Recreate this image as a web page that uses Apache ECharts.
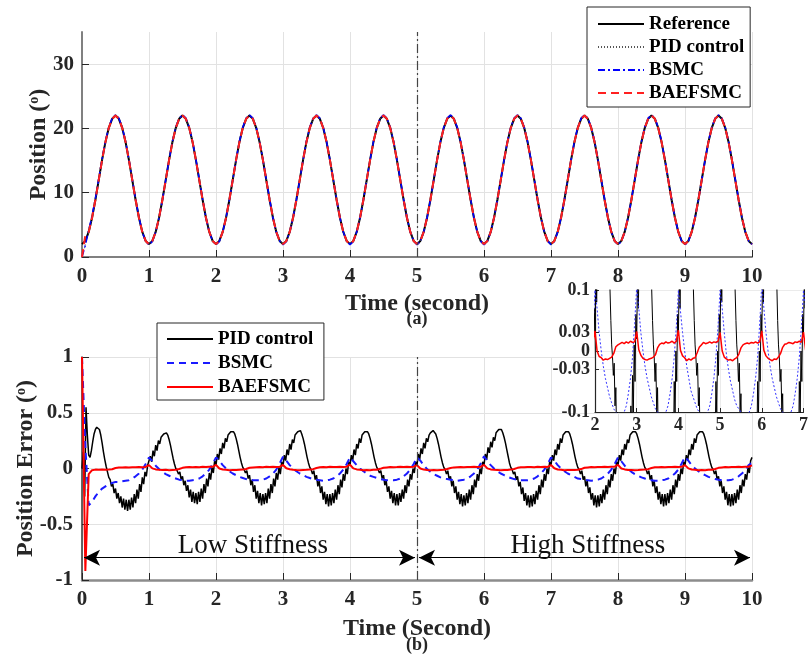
<!DOCTYPE html>
<html>
<head>
<meta charset="utf-8">
<script src="https://cdn.jsdelivr.net/npm/echarts/dist/echarts.min.js"></script>
<style>html,body{margin:0;padding:0;background:#fff}#c{width:811px;height:658px}</style>
</head>
<body>
<div id="c"></div>
<script>
// ---------- DATA ----------
const posStep = 0.05;   // s, sampling of the position curves
const errStepPid = 0.02; // s, sampling of PID error
const errStep = 0.05;   // s, sampling of BSMC / BAEFSMC error

const xTicks = [0,1,2,3,4,5,6,7,8,9,10];
const posTicks = [0,10,20,30];
const errTicks = [-1,-0.5,0,0.5,1];
const insetYTicks = [-0.1,-0.03,0,0.03,0.1];
const insetXTicks = [2,3,4,5,6,7];

const refPos = [
2,2.5,3.9,6.1,8.9,12,15.1,17.9,20.1,21.5,22,21.5,20.1,17.9,15.1,12,8.9,6.1,3.9,2.5,
2,2.5,3.9,6.1,8.9,12,15.1,17.9,20.1,21.5,22,21.5,20.1,17.9,15.1,12,8.9,6.1,3.9,2.5,
2,2.5,3.9,6.1,8.9,12,15.1,17.9,20.1,21.5,22,21.5,20.1,17.9,15.1,12,8.9,6.1,3.9,2.5,
2,2.5,3.9,6.1,8.9,12,15.1,17.9,20.1,21.5,22,21.5,20.1,17.9,15.1,12,8.9,6.1,3.9,2.5,
2,2.5,3.9,6.1,8.9,12,15.1,17.9,20.1,21.5,22,21.5,20.1,17.9,15.1,12,8.9,6.1,3.9,2.5,
2,2.5,3.9,6.1,8.9,12,15.1,17.9,20.1,21.5,22,21.5,20.1,17.9,15.1,12,8.9,6.1,3.9,2.5,
2,2.5,3.9,6.1,8.9,12,15.1,17.9,20.1,21.5,22,21.5,20.1,17.9,15.1,12,8.9,6.1,3.9,2.5,
2,2.5,3.9,6.1,8.9,12,15.1,17.9,20.1,21.5,22,21.5,20.1,17.9,15.1,12,8.9,6.1,3.9,2.5,
2,2.5,3.9,6.1,8.9,12,15.1,17.9,20.1,21.5,22,21.5,20.1,17.9,15.1,12,8.9,6.1,3.9,2.5,
2,2.5,3.9,6.1,8.9,12,15.1,17.9,20.1,21.5,22,21.5,20.1,17.9,15.1,12,8.9,6.1,3.9,2.5,
2];
const pidPos = [
0,2.0,3.8,5.9,8.6,11.7,14.9,17.8,20.1,21.6,22.1,21.7,20.3,18.2,15.3,12.1,8.9,6.1,3.9,2.5,
2,2.4,3.8,6.0,8.7,11.8,15.0,17.9,20.1,21.5,22,21.5,20.2,18.0,15.2,12.1,9.0,6.2,3.9,2.5,
2,2.4,3.8,6.0,8.7,11.8,15.0,17.9,20.1,21.5,22,21.5,20.2,18.0,15.2,12.1,9.0,6.2,3.9,2.5,
2,2.4,3.8,6.0,8.7,11.8,15.0,17.9,20.1,21.5,22,21.5,20.2,18.0,15.2,12.1,9.0,6.2,3.9,2.5,
2,2.4,3.8,6.0,8.7,11.8,15.0,17.9,20.1,21.5,22,21.5,20.2,18.0,15.2,12.1,9.0,6.2,3.9,2.5,
2,2.4,3.8,6.0,8.7,11.8,15.0,17.9,20.1,21.5,22,21.5,20.2,18.0,15.2,12.1,9.0,6.2,3.9,2.5,
2,2.4,3.8,6.0,8.7,11.8,15.0,17.9,20.1,21.5,22,21.5,20.2,18.0,15.2,12.1,9.0,6.2,3.9,2.5,
2,2.4,3.8,6.0,8.7,11.8,15.0,17.9,20.1,21.5,22,21.5,20.2,18.0,15.2,12.1,9.0,6.2,3.9,2.5,
2,2.4,3.8,6.0,8.7,11.8,15.0,17.9,20.1,21.5,22,21.5,20.2,18.0,15.2,12.1,9.0,6.2,3.9,2.5,
2,2.4,3.8,6.0,8.7,11.8,15.0,17.9,20.1,21.5,22,21.5,20.2,18.0,15.2,12.1,9.0,6.2,3.9,2.5,
1.9];
const bsmcPos = [
0,1.8,4.2,6.4,9.1,12.2,15.3,18.0,20.2,21.6,22.1,21.6,20.2,18.0,15.2,12.1,9.0,6.2,3.9,2.4,
1.9,2.4,3.9,6.1,8.9,12,15.1,18.0,20.2,21.6,22.1,21.6,20.2,18.0,15.2,12.1,9.0,6.1,3.9,2.5,
1.9,2.4,3.9,6.1,8.9,12,15.1,18.0,20.2,21.6,22.1,21.6,20.2,18.0,15.2,12.1,9.0,6.1,3.9,2.5,
1.9,2.4,3.9,6.1,8.9,12,15.1,18.0,20.2,21.6,22.1,21.6,20.2,18.0,15.2,12.1,9.0,6.1,3.9,2.5,
1.9,2.4,3.9,6.1,8.9,12,15.1,18.0,20.2,21.6,22.1,21.6,20.2,18.0,15.2,12.1,9.0,6.1,3.9,2.5,
1.9,2.4,3.9,6.1,8.9,12,15.1,18.0,20.2,21.6,22.1,21.6,20.2,18.0,15.2,12.1,9.0,6.1,3.9,2.5,
1.9,2.4,3.9,6.1,8.9,12,15.1,18.0,20.2,21.6,22.1,21.6,20.2,18.0,15.2,12.1,9.0,6.1,3.9,2.5,
1.9,2.4,3.9,6.1,8.9,12,15.1,18.0,20.2,21.6,22.1,21.6,20.2,18.0,15.2,12.1,9.0,6.1,3.9,2.5,
1.9,2.4,3.9,6.1,8.9,12,15.1,18.0,20.2,21.6,22.1,21.6,20.2,18.0,15.2,12.1,9.0,6.1,3.9,2.5,
1.9,2.4,3.9,6.1,8.9,12,15.1,18.0,20.2,21.6,22.1,21.6,20.2,18.0,15.2,12.1,9.0,6.1,3.9,2.5,
1.95];
const baefPos = [
0,3.4,3.9,6.1,8.9,12,15.1,17.9,20.1,21.5,22,21.5,20.1,17.9,15.1,12,8.9,6.1,3.9,2.5,
2,2.5,3.9,6.1,8.9,12,15.1,17.9,20.1,21.5,22,21.5,20.1,17.9,15.1,12,8.9,6.1,3.9,2.5,
2,2.5,3.9,6.1,8.9,12,15.1,17.9,20.1,21.5,22,21.5,20.1,17.9,15.1,12,8.9,6.1,3.9,2.5,
2,2.5,3.9,6.1,8.9,12,15.1,17.9,20.1,21.5,22,21.5,20.1,17.9,15.1,12,8.9,6.1,3.9,2.5,
2,2.5,3.9,6.1,8.9,12,15.1,17.9,20.1,21.5,22,21.5,20.1,17.9,15.1,12,8.9,6.1,3.9,2.5,
2,2.5,3.9,6.1,8.9,12,15.1,17.9,20.1,21.5,22,21.5,20.1,17.9,15.1,12,8.9,6.1,3.9,2.5,
2,2.5,3.9,6.1,8.9,12,15.1,17.9,20.1,21.5,22,21.5,20.1,17.9,15.1,12,8.9,6.1,3.9,2.5,
2,2.5,3.9,6.1,8.9,12,15.1,17.9,20.1,21.5,22,21.5,20.1,17.9,15.1,12,8.9,6.1,3.9,2.5,
2,2.5,3.9,6.1,8.9,12,15.1,17.9,20.1,21.5,22,21.5,20.1,17.9,15.1,12,8.9,6.1,3.9,2.5,
2,2.5,3.9,6.1,8.9,12,15.1,17.9,20.1,21.5,22,21.5,20.1,17.9,15.1,12,8.9,6.1,3.9,2.5,
2];

const pidErr = [
0,0.15,-0.25,0.55,0.3,0.12,0.1,0.16,0.24,0.31,0.35,0.37,0.37,0.35,0.3,0.23,0.15,0.08,0.02,-0.03,-0.08,-0.1,-0.16,-0.14,-0.22,-0.18,-0.27,-0.22,-0.31,-0.25,-0.35,-0.27,-0.37,-0.28,-0.38,-0.28,-0.37,-0.26,-0.35,-0.23,-0.31,-0.19,-0.27,-0.14,-0.21,-0.08,-0.14,-0.03,-0.07,0.03,
0.02,0.11,0.06,0.16,0.11,0.21,0.16,0.25,0.22,0.28,0.29,0.31,0.32,0.32,0.3,0.26,0.21,0.15,0.09,0.04,0.0,-0.02,-0.05,-0.03,-0.1,-0.07,-0.15,-0.11,-0.2,-0.15,-0.26,-0.19,-0.3,-0.21,-0.31,-0.22,-0.32,-0.21,-0.3,-0.18,-0.27,-0.14,-0.22,-0.09,-0.16,-0.04,-0.1,0.01,-0.04,0.07,
0.03,0.13,0.08,0.18,0.13,0.23,0.18,0.27,0.24,0.3,0.31,0.33,0.34,0.33,0.31,0.27,0.22,0.16,0.1,0.05,0.01,-0.01,-0.04,-0.02,-0.09,-0.06,-0.15,-0.1,-0.21,-0.15,-0.27,-0.2,-0.31,-0.22,-0.33,-0.23,-0.32,-0.22,-0.31,-0.18,-0.27,-0.14,-0.22,-0.09,-0.16,-0.04,-0.1,0.01,-0.05,0.06,
0.02,0.12,0.07,0.17,0.12,0.22,0.17,0.26,0.23,0.3,0.31,0.33,0.34,0.34,0.31,0.27,0.22,0.16,0.1,0.05,0.01,-0.01,-0.05,-0.02,-0.1,-0.06,-0.16,-0.11,-0.22,-0.16,-0.28,-0.21,-0.32,-0.23,-0.34,-0.23,-0.33,-0.22,-0.31,-0.19,-0.28,-0.15,-0.23,-0.1,-0.17,-0.05,-0.11,0,-0.05,0.06,
0.03,0.12,0.07,0.17,0.12,0.22,0.18,0.27,0.23,0.3,0.31,0.33,0.34,0.33,0.31,0.27,0.22,0.16,0.1,0.05,0.01,-0.01,-0.04,-0.02,-0.09,-0.06,-0.15,-0.11,-0.21,-0.16,-0.27,-0.2,-0.31,-0.22,-0.33,-0.23,-0.33,-0.22,-0.3,-0.19,-0.27,-0.15,-0.22,-0.1,-0.16,-0.05,-0.1,0,-0.04,0.06,
0.03,0.13,0.08,0.18,0.13,0.23,0.18,0.27,0.24,0.3,0.32,0.33,0.34,0.33,0.31,0.27,0.22,0.16,0.1,0.05,0.01,-0.01,-0.05,-0.02,-0.1,-0.07,-0.16,-0.11,-0.22,-0.16,-0.28,-0.21,-0.32,-0.23,-0.34,-0.24,-0.33,-0.22,-0.31,-0.19,-0.28,-0.15,-0.23,-0.1,-0.17,-0.05,-0.11,0,-0.05,0.06,
0.03,0.13,0.08,0.19,0.14,0.24,0.19,0.28,0.25,0.32,0.33,0.35,0.36,0.35,0.32,0.28,0.23,0.17,0.11,0.05,0.01,-0.01,-0.05,-0.03,-0.1,-0.07,-0.16,-0.12,-0.23,-0.17,-0.29,-0.22,-0.33,-0.24,-0.35,-0.24,-0.34,-0.23,-0.32,-0.2,-0.28,-0.15,-0.23,-0.1,-0.17,-0.05,-0.11,0,-0.05,0.06,
0.03,0.12,0.07,0.17,0.12,0.22,0.17,0.27,0.23,0.3,0.31,0.33,0.34,0.33,0.31,0.27,0.22,0.16,0.1,0.05,0.01,-0.01,-0.05,-0.02,-0.1,-0.07,-0.16,-0.11,-0.22,-0.17,-0.28,-0.22,-0.33,-0.24,-0.35,-0.24,-0.34,-0.23,-0.31,-0.19,-0.28,-0.15,-0.23,-0.1,-0.17,-0.05,-0.11,0,-0.05,0.06,
0.03,0.12,0.07,0.17,0.12,0.22,0.17,0.26,0.23,0.3,0.31,0.33,0.34,0.33,0.31,0.27,0.22,0.16,0.1,0.05,0.01,-0.01,-0.05,-0.02,-0.1,-0.06,-0.16,-0.11,-0.22,-0.16,-0.28,-0.21,-0.32,-0.23,-0.34,-0.23,-0.33,-0.22,-0.31,-0.19,-0.28,-0.15,-0.23,-0.1,-0.17,-0.05,-0.11,0,-0.05,0.06,
0.03,0.12,0.07,0.17,0.12,0.22,0.17,0.27,0.23,0.3,0.31,0.33,0.34,0.33,0.31,0.27,0.22,0.16,0.1,0.05,0.01,-0.01,-0.05,-0.02,-0.1,-0.07,-0.16,-0.11,-0.22,-0.16,-0.28,-0.21,-0.33,-0.23,-0.34,-0.23,-0.33,-0.22,-0.31,-0.19,-0.28,-0.15,-0.22,-0.1,-0.16,-0.05,-0.1,0.01,-0.04,0.07,
0.1];

const bsmcErr = [
1.0,0.2,-0.33,-0.3,-0.25,-0.21,-0.18,-0.16,-0.14,-0.13,-0.12,-0.12,-0.115,-0.11,-0.105,-0.09,-0.07,-0.045,-0.01,0.04,
0.1,0.065,0.025,-0.005,-0.03,-0.05,-0.065,-0.08,-0.09,-0.1,-0.105,-0.11,-0.11,-0.105,-0.1,-0.09,-0.07,-0.045,-0.01,0.04,
0.1,0.07,0.03,0,-0.025,-0.045,-0.06,-0.075,-0.085,-0.095,-0.1,-0.105,-0.105,-0.105,-0.1,-0.09,-0.07,-0.045,-0.01,0.045,
0.105,0.07,0.03,0,-0.025,-0.045,-0.06,-0.075,-0.085,-0.095,-0.1,-0.105,-0.11,-0.105,-0.1,-0.09,-0.07,-0.045,-0.01,0.04,
0.1,0.065,0.03,0,-0.025,-0.045,-0.065,-0.075,-0.085,-0.095,-0.1,-0.105,-0.105,-0.105,-0.1,-0.09,-0.07,-0.045,-0.01,0.04,
0.1,0.07,0.03,-0.005,-0.03,-0.05,-0.065,-0.08,-0.09,-0.095,-0.1,-0.105,-0.11,-0.105,-0.1,-0.09,-0.07,-0.045,-0.01,0.045,
0.11,0.07,0.03,0,-0.025,-0.045,-0.06,-0.075,-0.085,-0.095,-0.1,-0.105,-0.105,-0.105,-0.1,-0.09,-0.07,-0.045,-0.01,0.04,
0.1,0.07,0.03,0,-0.025,-0.045,-0.06,-0.075,-0.09,-0.095,-0.1,-0.105,-0.11,-0.105,-0.1,-0.09,-0.07,-0.045,-0.01,0.04,
0.1,0.065,0.025,-0.005,-0.03,-0.05,-0.065,-0.08,-0.09,-0.1,-0.105,-0.11,-0.11,-0.105,-0.1,-0.09,-0.07,-0.045,-0.01,0.045,
0.105,0.07,0.03,0,-0.025,-0.045,-0.06,-0.075,-0.085,-0.095,-0.1,-0.105,-0.105,-0.105,-0.1,-0.09,-0.07,-0.045,-0.015,0.03,
0.05];

const baefErr = [
1.0,-0.92,-0.05,-0.015,-0.01,-0.011,-0.009,-0.012,-0.01,-0.007,0.004,0.008,0.01,0.011,0.009,0.012,0.011,0.013,0.012,0.014,
0.03,0.001,-0.008,-0.012,-0.014,-0.012,-0.015,-0.013,-0.011,-0.005,0.006,0.011,0.013,0.012,0.014,0.012,0.015,0.013,0.016,0.015,
0.033,0,-0.009,-0.011,-0.015,-0.013,-0.014,-0.012,-0.01,-0.004,0.007,0.01,0.012,0.014,0.012,0.015,0.013,0.016,0.014,0.015,
0.032,0.002,-0.007,-0.012,-0.014,-0.015,-0.013,-0.012,-0.01,-0.006,0.005,0.011,0.013,0.012,0.015,0.013,0.014,0.016,0.013,0.016,
0.034,0.001,-0.008,-0.011,-0.016,-0.013,-0.015,-0.012,-0.011,-0.003,0.006,0.01,0.014,0.012,0.013,0.015,0.013,0.015,0.014,0.016,
0.03,0,-0.01,-0.013,-0.015,-0.014,-0.016,-0.013,-0.011,-0.005,0.005,0.01,0.012,0.013,0.012,0.014,0.013,0.015,0.013,0.015,
0.033,0.001,-0.008,-0.012,-0.014,-0.016,-0.013,-0.014,-0.01,-0.004,0.006,0.011,0.012,0.014,0.013,0.012,0.015,0.014,0.016,0.014,
0.031,0.002,-0.009,-0.011,-0.015,-0.013,-0.014,-0.013,-0.011,-0.005,0.007,0.01,0.013,0.012,0.014,0.013,0.015,0.013,0.015,0.016,
0.032,0,-0.008,-0.013,-0.014,-0.015,-0.014,-0.012,-0.01,-0.006,0.005,0.011,0.012,0.013,0.012,0.014,0.014,0.016,0.013,0.015,
0.03,0.001,-0.009,-0.012,-0.015,-0.013,-0.015,-0.012,-0.011,-0.004,0.006,0.01,0.013,0.012,0.014,0.013,0.015,0.014,0.015,0.016,
0.028];

const stiffnessPhases = [
  { label: 'Low Stiffness',  from: 0, to: 5 },
  { label: 'High Stiffness', from: 5, to: 10 }
];
const switchTime = 5;
const stiffnessArrowLevel = -0.8;
const stiffnessTextLevel = -0.69;

// ---------- CHART ----------
const toPairs = (arr, dt) => arr.map((v, i) => [Math.round(i * dt * 1000) / 1000, v]);
const FONT = 'Liberation Serif';
const axisTxt = { fontFamily: FONT, fontWeight: 'bold', color: '#262626' };
const gridLine = { show: true, lineStyle: { color: '#e2e2e2', width: 1 } };

const chart = echarts.init(document.getElementById('c'), null, { renderer: 'canvas' });

function xAxisMain(gridIndex, name, lineColor, lineWidth, gap) {
  return {
    type: 'value', gridIndex, min: 0, max: 10, interval: 1,
    name, nameLocation: 'middle', nameGap: gap, nameMoveOverlap: false,
    nameTextStyle: Object.assign({ fontSize: 24 }, axisTxt),
    axisLine: { onZero: false, lineStyle: { color: lineColor, width: lineWidth } },
    axisTick: { inside: true, length: 7, lineStyle: { color: '#262626', width: 1 } },
    axisLabel: Object.assign({ fontSize: 21, margin: 9, customValues: xTicks }, axisTxt),
    splitLine: gridLine
  };
}
const supRich = { s: { fontSize: 14, fontFamily: FONT, fontWeight: 'bold', color: '#262626', verticalAlign: 'top', lineHeight: 14 } };

const phaseArrows = stiffnessPhases.map(p => [
  { coord: [p.from + 0.03, stiffnessArrowLevel] },
  { coord: [p.to - 0.03, stiffnessArrowLevel] }
]);

const legendCommon = {
  orient: 'vertical', itemWidth: 46, itemHeight: 14,
  borderColor: '#262626', borderWidth: 1, backgroundColor: '#ffffff',
  itemStyle: { opacity: 0 },
  textStyle: { fontFamily: FONT, fontWeight: 'bold', fontSize: 19, color: '#000', lineHeight: 20 },
  selectedMode: false
};

const option = {
  animation: false,
  backgroundColor: '#ffffff',
  grid: [
    { left: 82, right: 59, top: 32, height: 225 },
    { left: 82, right: 59, top: 357, height: 223 },
    { left: 595, width: 212, top: 290, height: 122, show: true, backgroundColor: '#ffffff', borderWidth: 0, z: 3 }
  ],
  xAxis: [
    xAxisMain(0, 'Time (second)', '#808080', 2, 35),
    xAxisMain(1, 'Time (Second)', '#8c8c8c', 2.5, 37),
    {
      type: 'value', gridIndex: 2, min: 2, max: 7, interval: 1, z: 4,
      axisLine: { onZero: false, lineStyle: { color: '#262626', width: 1.2 } },
      axisTick: { inside: true, length: 4, lineStyle: { color: '#262626' } },
      axisLabel: Object.assign({ fontSize: 18, margin: 4, customValues: insetXTicks }, axisTxt),
      splitLine: { show: true, lineStyle: { color: '#ebebeb', width: 1 } }
    }
  ],
  yAxis: [
    {
      type: 'value', gridIndex: 0, min: 0, max: 35,
      name: 'Position ({s|o})', nameLocation: 'middle', nameGap: 31, nameMoveOverlap: false,
      nameTextStyle: Object.assign({ fontSize: 24, rich: supRich }, axisTxt),
      axisLine: { onZero: false, lineStyle: { color: '#808080', width: 2 } },
      axisTick: { inside: true, length: 7, customValues: posTicks, lineStyle: { color: '#262626' } },
      axisLabel: Object.assign({ fontSize: 21, margin: 8, customValues: posTicks }, axisTxt),
      splitLine: gridLine
    },
    {
      type: 'value', gridIndex: 1, min: -1, max: 1, interval: 0.5,
      name: 'Position Error ({s|o})', nameLocation: 'middle', nameGap: 44, nameMoveOverlap: false,
      nameTextStyle: Object.assign({ fontSize: 24, rich: supRich }, axisTxt),
      axisLine: { onZero: false, lineStyle: { color: '#333333', width: 1.5 } },
      axisTick: { inside: true, length: 7, customValues: errTicks, lineStyle: { color: '#262626' } },
      axisLabel: Object.assign({ fontSize: 21, margin: 9, customValues: errTicks }, axisTxt),
      splitLine: gridLine
    },
    {
      type: 'value', gridIndex: 2, min: -0.1, max: 0.1, z: 4,
      axisLine: { onZero: false, lineStyle: { color: '#262626', width: 1.2 } },
      axisTick: { inside: true, length: 4, customValues: insetYTicks, lineStyle: { color: '#262626' } },
      axisLabel: Object.assign({ fontSize: 18, margin: 5, customValues: insetYTicks, formatter: v => String(v) }, axisTxt),
      splitLine: { show: true, lineStyle: { color: '#ebebeb', width: 1 } }
    }
  ],
  legend: [
    Object.assign({}, legendCommon, {
      data: ['Reference', 'PID control', 'BSMC', 'BAEFSMC'],
      left: 587, top: 7, padding: [7, 6, 4, 10], itemGap: 3
    }),
    Object.assign({}, legendCommon, {
      data: ['PID control ', 'BSMC ', 'BAEFSMC '],
      left: 157, top: 323, padding: [6, 6, 3, 9], itemGap: 4
    })
  ],
  series: [
    // (a) position tracking
    { name: 'Reference', type: 'line', xAxisIndex: 0, yAxisIndex: 0, data: toPairs(refPos, posStep),
      symbol: 'none', color: '#000', lineStyle: { color: '#000', width: 2 },
      markLine: { silent: true, symbol: 'none', label: { show: false },
        lineStyle: { color: '#444', width: 1.2, type: [9, 3, 2, 3] }, data: [{ xAxis: switchTime }] } },
    { name: 'PID control', type: 'line', xAxisIndex: 0, yAxisIndex: 0, data: toPairs(pidPos, posStep),
      symbol: 'none', color: '#555', lineStyle: { color: '#555', width: 1, type: [1, 2] } },
    { name: 'BSMC', type: 'line', xAxisIndex: 0, yAxisIndex: 0, data: toPairs(bsmcPos, posStep),
      symbol: 'none', color: '#0000ff', lineStyle: { color: '#0000ff', width: 1.5, type: [7, 3, 2, 3] } },
    { name: 'BAEFSMC', type: 'line', xAxisIndex: 0, yAxisIndex: 0, data: toPairs(baefPos, posStep),
      symbol: 'none', color: '#ff0000', lineStyle: { color: '#ff2020', width: 2, type: [8, 5] } },

    // (b) position error
    { name: 'PID control ', type: 'line', xAxisIndex: 1, yAxisIndex: 1, data: toPairs(pidErr, errStepPid),
      symbol: 'none', color: '#000', lineStyle: { color: '#000', width: 1.5 },
      markLine: { silent: true, symbol: 'none', label: { show: false },
        lineStyle: { color: '#444', width: 1.2, type: [9, 3, 2, 3] }, data: [{ xAxis: switchTime }] } },
    { name: 'BSMC ', type: 'line', xAxisIndex: 1, yAxisIndex: 1, data: toPairs(bsmcErr, errStep),
      symbol: 'none', color: '#0000ff', lineStyle: { color: '#1a1aff', width: 2, type: [7, 5] } },
    { name: 'BAEFSMC ', type: 'line', xAxisIndex: 1, yAxisIndex: 1, data: toPairs(baefErr, errStep),
      symbol: 'none', color: '#ff0000', lineStyle: { color: '#ff0000', width: 2 },
      markLine: { silent: true, symbol: ['arrow', 'arrow'], symbolSize: [12, 16], label: { show: false },
        lineStyle: { color: '#000', width: 1, type: 'solid' }, data: phaseArrows } },

    // inset (zoom on 2-7 s)
    { name: 'inset PID', type: 'line', xAxisIndex: 2, yAxisIndex: 2, data: toPairs(pidErr, errStepPid), z: 5,
      symbol: 'none', lineStyle: { color: '#000', width: 1 } },
    { name: 'inset BSMC', type: 'line', xAxisIndex: 2, yAxisIndex: 2, data: toPairs(bsmcErr, errStep), z: 5,
      symbol: 'none', lineStyle: { color: '#3333ff', width: 1, type: [2, 2] } },
    { name: 'inset BAEFSMC', type: 'line', xAxisIndex: 2, yAxisIndex: 2, data: toPairs(baefErr, errStep), z: 6,
      symbol: 'none', lineStyle: { color: '#ff0000', width: 1.5 } }
  ],
  graphic: []
};
chart.setOption(option);

// Annotation texts placed through the chart's own coordinate conversion
const txt = [];
stiffnessPhases.forEach(p => {
  const pt = chart.convertToPixel({ xAxisIndex: 1, yAxisIndex: 1 }, [(p.from + p.to) / 2 + 0.05, stiffnessTextLevel]);
  txt.push({ type: 'text', x: pt[0], y: pt[1], z: 10,
    style: { text: p.label, font: '27px "Liberation Serif"', fill: '#111', align: 'center', verticalAlign: 'middle', textAlign: 'center', textVerticalAlign: 'middle' } });
});
const cA = chart.convertToPixel({ xAxisIndex: 0, yAxisIndex: 0 }, [switchTime, 0]);
const cB = chart.convertToPixel({ xAxisIndex: 1, yAxisIndex: 1 }, [switchTime, -1]);
txt.push({ type: 'text', x: cA[0], y: cA[1] + 62, z: 10,
  style: { text: '(a)', font: 'bold 18px "Liberation Serif"', fill: '#262626', align: 'center', verticalAlign: 'middle', textAlign: 'center', textVerticalAlign: 'middle' } });
txt.push({ type: 'text', x: cB[0], y: cB[1] + 65, z: 10,
  style: { text: '(b)', font: 'bold 18px "Liberation Serif"', fill: '#262626', align: 'center', verticalAlign: 'middle', textAlign: 'center', textVerticalAlign: 'middle' } });
chart.setOption({ graphic: txt });
</script>
</body>
</html>
